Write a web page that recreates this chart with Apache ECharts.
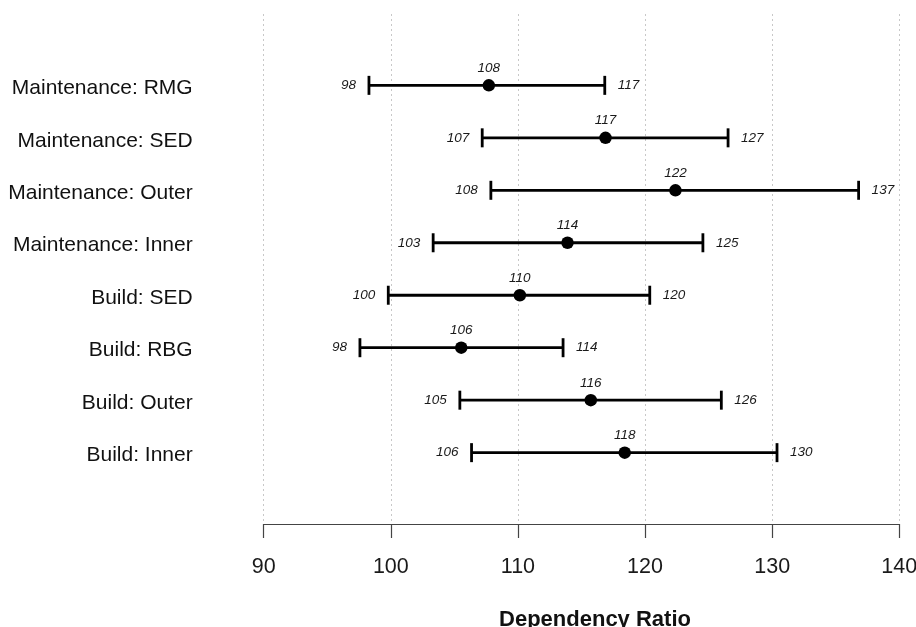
<!DOCTYPE html>
<html>
<head>
<meta charset="utf-8">
<title>Dependency Ratio</title>
<script src="https://cdn.jsdelivr.net/npm/echarts@6/dist/echarts.min.js"></script>
<style>
  html, body { margin: 0; padding: 0; background: #fff; }
  #chart { width: 916px; height: 627px; }
</style>
</head>
<body>
<div id="chart"></div>
<script>
// Groups, listed from the bottom row to the top row
const categories = [
  'Build: Inner', 'Build: Outer', 'Build: RBG', 'Build: SED',
  'Maintenance: Inner', 'Maintenance: Outer', 'Maintenance: SED', 'Maintenance: RMG'
];
// Point estimate and interval bounds of the dependency ratio
const estimate = [118.40, 115.73, 105.54, 110.15, 113.90, 122.39, 116.89, 107.71];
const lower    = [106.35, 105.43,  97.57,  99.80, 103.33, 107.87, 107.19,  98.28];
const upper    = [130.38, 126.00, 113.55, 120.37, 124.55, 136.80, 126.53, 116.83];
const xTicks   = [90, 100, 110, 120, 130, 140];

const FONT = '"Liberation Sans", Arial, Helvetica, sans-serif';
const rowPos = categories.map((_, i) => i + 1);
// row names sit a touch below the whisker line
const rowLabelPos = rowPos.map(v => v - 0.055);

const valueLabel = {
  show: true,
  fontFamily: FONT,
  fontStyle: 'italic',
  fontSize: 13.5,
  color: '#1a1a1a',
  formatter: p => String(Math.round(p.value[0]))
};

const chart = echarts.init(document.getElementById('chart'), null, { renderer: 'canvas' });

chart.setOption({
  animation: false,
  backgroundColor: '#fff',
  title: {
    text: 'Dependency Ratio',
    left: 590,
    top: 604,
    textAlign: 'center',
    textStyle: { fontFamily: FONT, fontWeight: 'bold', fontSize: 22, color: '#111' }
  },
  grid: {
    left: 263.7, right: 16.7, top: 14, bottom: 103,
    containLabel: false,
    outerBoundsMode: 'none'
  },
  xAxis: {
    type: 'value',
    min: xTicks[0],
    max: xTicks[xTicks.length - 1],
    interval: 10,
    axisLine: { show: true, onZero: false, lineStyle: { color: '#444', width: 1.2 } },
    axisTick: { show: true, inside: false, length: 14, lineStyle: { color: '#444', width: 1.2 } },
    axisLabel: { fontFamily: FONT, fontSize: 21.5, color: '#1a1a1a', margin: 32 },
    splitLine: { show: true, lineStyle: { color: '#c8c8c8', width: 1, type: [2, 3] } }
  },
  yAxis: {
    type: 'value',
    min: -0.36,
    max: 9.36,
    axisLine: { show: false },
    axisTick: { show: false },
    splitLine: { show: false },
    axisLabel: {
      customValues: rowLabelPos,
      fontFamily: FONT,
      fontSize: 21,
      color: '#111',
      margin: 71,
      formatter: v => categories[Math.round(v) - 1] || ''
    }
  },
  series: [
    {
      // interval whiskers with end caps
      type: 'custom',
      silent: true,
      data: categories.map((_, i) => [lower[i], upper[i], rowPos[i]]),
      encode: { x: [0, 1], y: 2 },
      renderItem: (params, api) => {
        const a = api.coord([api.value(0), api.value(2)]);
        const b = api.coord([api.value(1), api.value(2)]);
        const h = 9.5;
        const style = { stroke: '#000', lineWidth: 2.8 };
        return {
          type: 'group',
          children: [
            { type: 'line', shape: { x1: a[0], y1: a[1], x2: b[0], y2: b[1] }, style },
            { type: 'line', shape: { x1: a[0], y1: a[1] - h, x2: a[0], y2: a[1] + h }, style },
            { type: 'line', shape: { x1: b[0], y1: b[1] - h, x2: b[0], y2: b[1] + h }, style }
          ]
        };
      },
      z: 2
    },
    {
      // point estimates
      type: 'scatter',
      silent: true,
      symbol: 'circle',
      symbolSize: 12.5,
      itemStyle: { color: '#000', opacity: 1 },
      data: estimate.map((v, i) => [v, rowPos[i]]),
      label: Object.assign({}, valueLabel, { position: 'top', distance: 4 }),
      z: 3
    },
    {
      // lower bound labels
      type: 'scatter',
      silent: true,
      symbolSize: 0,
      itemStyle: { color: '#000', opacity: 1 },
      data: lower.map((v, i) => [v, rowPos[i]]),
      label: Object.assign({}, valueLabel, { position: 'left', distance: 13 }),
      z: 3
    },
    {
      // upper bound labels
      type: 'scatter',
      silent: true,
      symbolSize: 0,
      itemStyle: { color: '#000', opacity: 1 },
      data: upper.map((v, i) => [v, rowPos[i]]),
      label: Object.assign({}, valueLabel, { position: 'right', distance: 13 }),
      z: 3
    }
  ]
});
</script>
</body>
</html>
